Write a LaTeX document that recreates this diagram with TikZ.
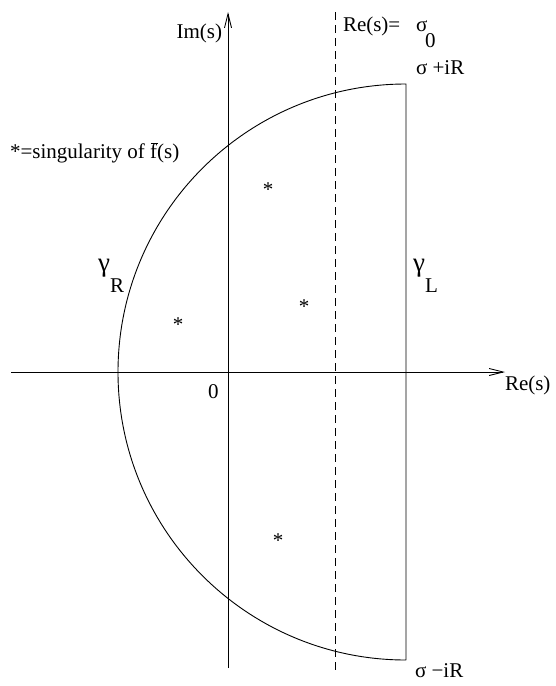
\documentclass[tikz,border=0pt]{standalone}
\usepackage{fontspec}
\setmainfont{Liberation Serif}
\newfontfamily\tms{Liberation Serif}
\usetikzlibrary{arrows.meta}
\tikzset{
  lbl/.style={inner sep=0pt, outer sep=0pt, anchor=base west, font=\tms\fontsize{21}{25}\selectfont},
  glbl/.style={inner sep=0pt, outer sep=0pt, anchor=base west, font=\tms\fontsize{27}{30}\selectfont},
  sing/.style={inner sep=0pt, outer sep=0pt, anchor=base, font=\tms\fontsize{21}{25}\selectfont},
  axis/.style={line width=0.9pt, -{Straight Barb[length=14pt,width=7pt,line width=0.9pt]}},
  curve/.style={line width=0.9pt},
  dashline/.style={line width=0.9pt, dash pattern=on 8pt off 5pt}
}
\begin{document}
\begin{tikzpicture}[x=1pt,y=-1pt]
\useasboundingbox (0,0) rectangle (556,686);
% endpoints
\coordinate (xl) at (11,372);
\coordinate (xr) at (505,372);
\coordinate (yb) at (228,668);
\coordinate (yt) at (228,12);
\coordinate (dt) at (335,12);
\coordinate (db) at (335,670);
\coordinate (top) at (406,84);
\coordinate (bot) at (406,660);
% axes
\draw[axis] (xl) -- (xr);
\draw[axis] (yb) -- (yt);
% dashed line Re(s)=sigma_0
\draw[dashline] (dt) -- (db);
% contour
\draw[curve] (bot) -- (top) arc[start angle=90, end angle=270, radius=288pt];
% labels
\node[lbl, anchor=base east] (im) at (222,38) {Im(s)};
\node[lbl] (res0) at (343,31) {Re(s)=};
\node[lbl] (sig0) at (416,31) {σ};
\node[lbl] (zero0) at (425,47) {0};
\node[lbl] (sigp) at (416,74) {σ +iR};
\node[lbl] (sigm) at (415,677) {σ −iR};
\node[lbl] (legend) at (10,158) {*=singularity of f\makebox[0pt][r]{\rule[0.68em]{0.36em}{0.05em}\hspace{-0.06em}}(s)};
\node[glbl] (gR) at (98,271) {γ};
\node[lbl] (gRs) at (110,292) {R};
\node[glbl] (gL) at (413,271) {γ};
\node[lbl] (gLs) at (425,292) {L};
\node[lbl] (orig) at (208,398) {0};
\node[lbl] (rex) at (505,390) {Re(s)};
% singularities
\node[sing] (s1) at (268,196) {*};
\node[sing] (s2) at (304,313) {*};
\node[sing] (s3) at (178,331) {*};
\node[sing] (s4) at (278,547) {*};
\end{tikzpicture}
\end{document}
